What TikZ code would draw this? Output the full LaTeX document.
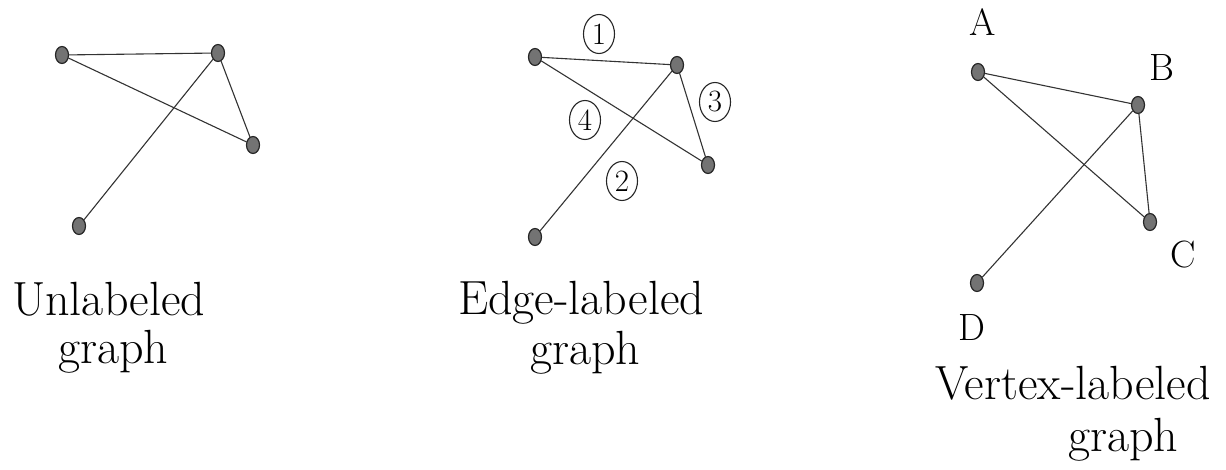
\documentclass[tikz,border=0pt]{standalone}
\usepackage{fontspec}
\usetikzlibrary{shapes.geometric}
\begin{document}
\begin{tikzpicture}[x=1pt,y=-1pt,
  vtx/.style={ellipse,draw=black!85,fill=black!55,line width=1.2pt,minimum width=13pt,minimum height=17pt,inner sep=0pt},
  edg/.style={draw=black!80,line width=1.1pt,line cap=round},
  elab/.style={ellipse,draw=black!85,line width=1.1pt,minimum width=31pt,minimum height=39pt,inner sep=0pt,font=\fontsize{31}{34}\selectfont},
  vlab/.style={font=\fontsize{38}{42}\selectfont,inner sep=0pt},
  captext/.style={font=\fontsize{48}{54}\selectfont,inner sep=0pt,anchor=base west}]
\useasboundingbox (0,0) rectangle (1226,470);
% panel 1
\node[vtx] (u1) at (62,55) {};
\node[vtx] (u2) at (218,53) {};
\node[vtx] (u3) at (253,145) {};
\node[vtx] (u4) at (79,226) {};
\draw[edg] (u1) -- (u2);
\draw[edg] (u1) -- (u3);
\draw[edg] (u2) -- (u3);
\draw[edg] (u2) -- (u4);
\node[captext] (t1a) at (12,316) {Unlabeled};
\node[captext] (t1b) at (58,363) {graph};
% panel 2
\node[vtx] (e1) at (535,57) {};
\node[vtx] (e2) at (677,65) {};
\node[vtx] (e3) at (708,165) {};
\node[vtx] (e4) at (535,237) {};
\draw[edg] (e1) -- (e2);
\draw[edg] (e1) -- (e3);
\draw[edg] (e2) -- (e3);
\draw[edg] (e2) -- (e4);
\node[elab] (l1) at (599,34) {1};
\node[elab] (l3) at (715,102) {3};
\node[elab] (l4) at (585,120) {4};
\node[elab] (l2) at (622,181) {2};
\node[captext] (t2a) at (458,314) {Edge-labeled};
\node[captext] (t2b) at (530,364) {graph};
% panel 3
\node[vtx] (A) at (978,72) {};
\node[vtx] (B) at (1138,105) {};
\node[vtx] (C) at (1150,222) {};
\node[vtx] (D) at (977,283) {};
\draw[edg] (A) -- (B);
\draw[edg] (A) -- (C);
\draw[edg] (B) -- (C);
\draw[edg] (B) -- (D);
\node[vlab] (la) at (983,22) {A};
\node[vlab] (lb) at (1162,68) {B};
\node[vlab] (lc) at (1183,255) {C};
\node[vlab] (ld) at (972,328) {D};
\node[captext] (t3a) at (935,399) {Vertex-labeled};
\node[captext] (t3b) at (1068,451) {graph};
\end{tikzpicture}
\end{document}
